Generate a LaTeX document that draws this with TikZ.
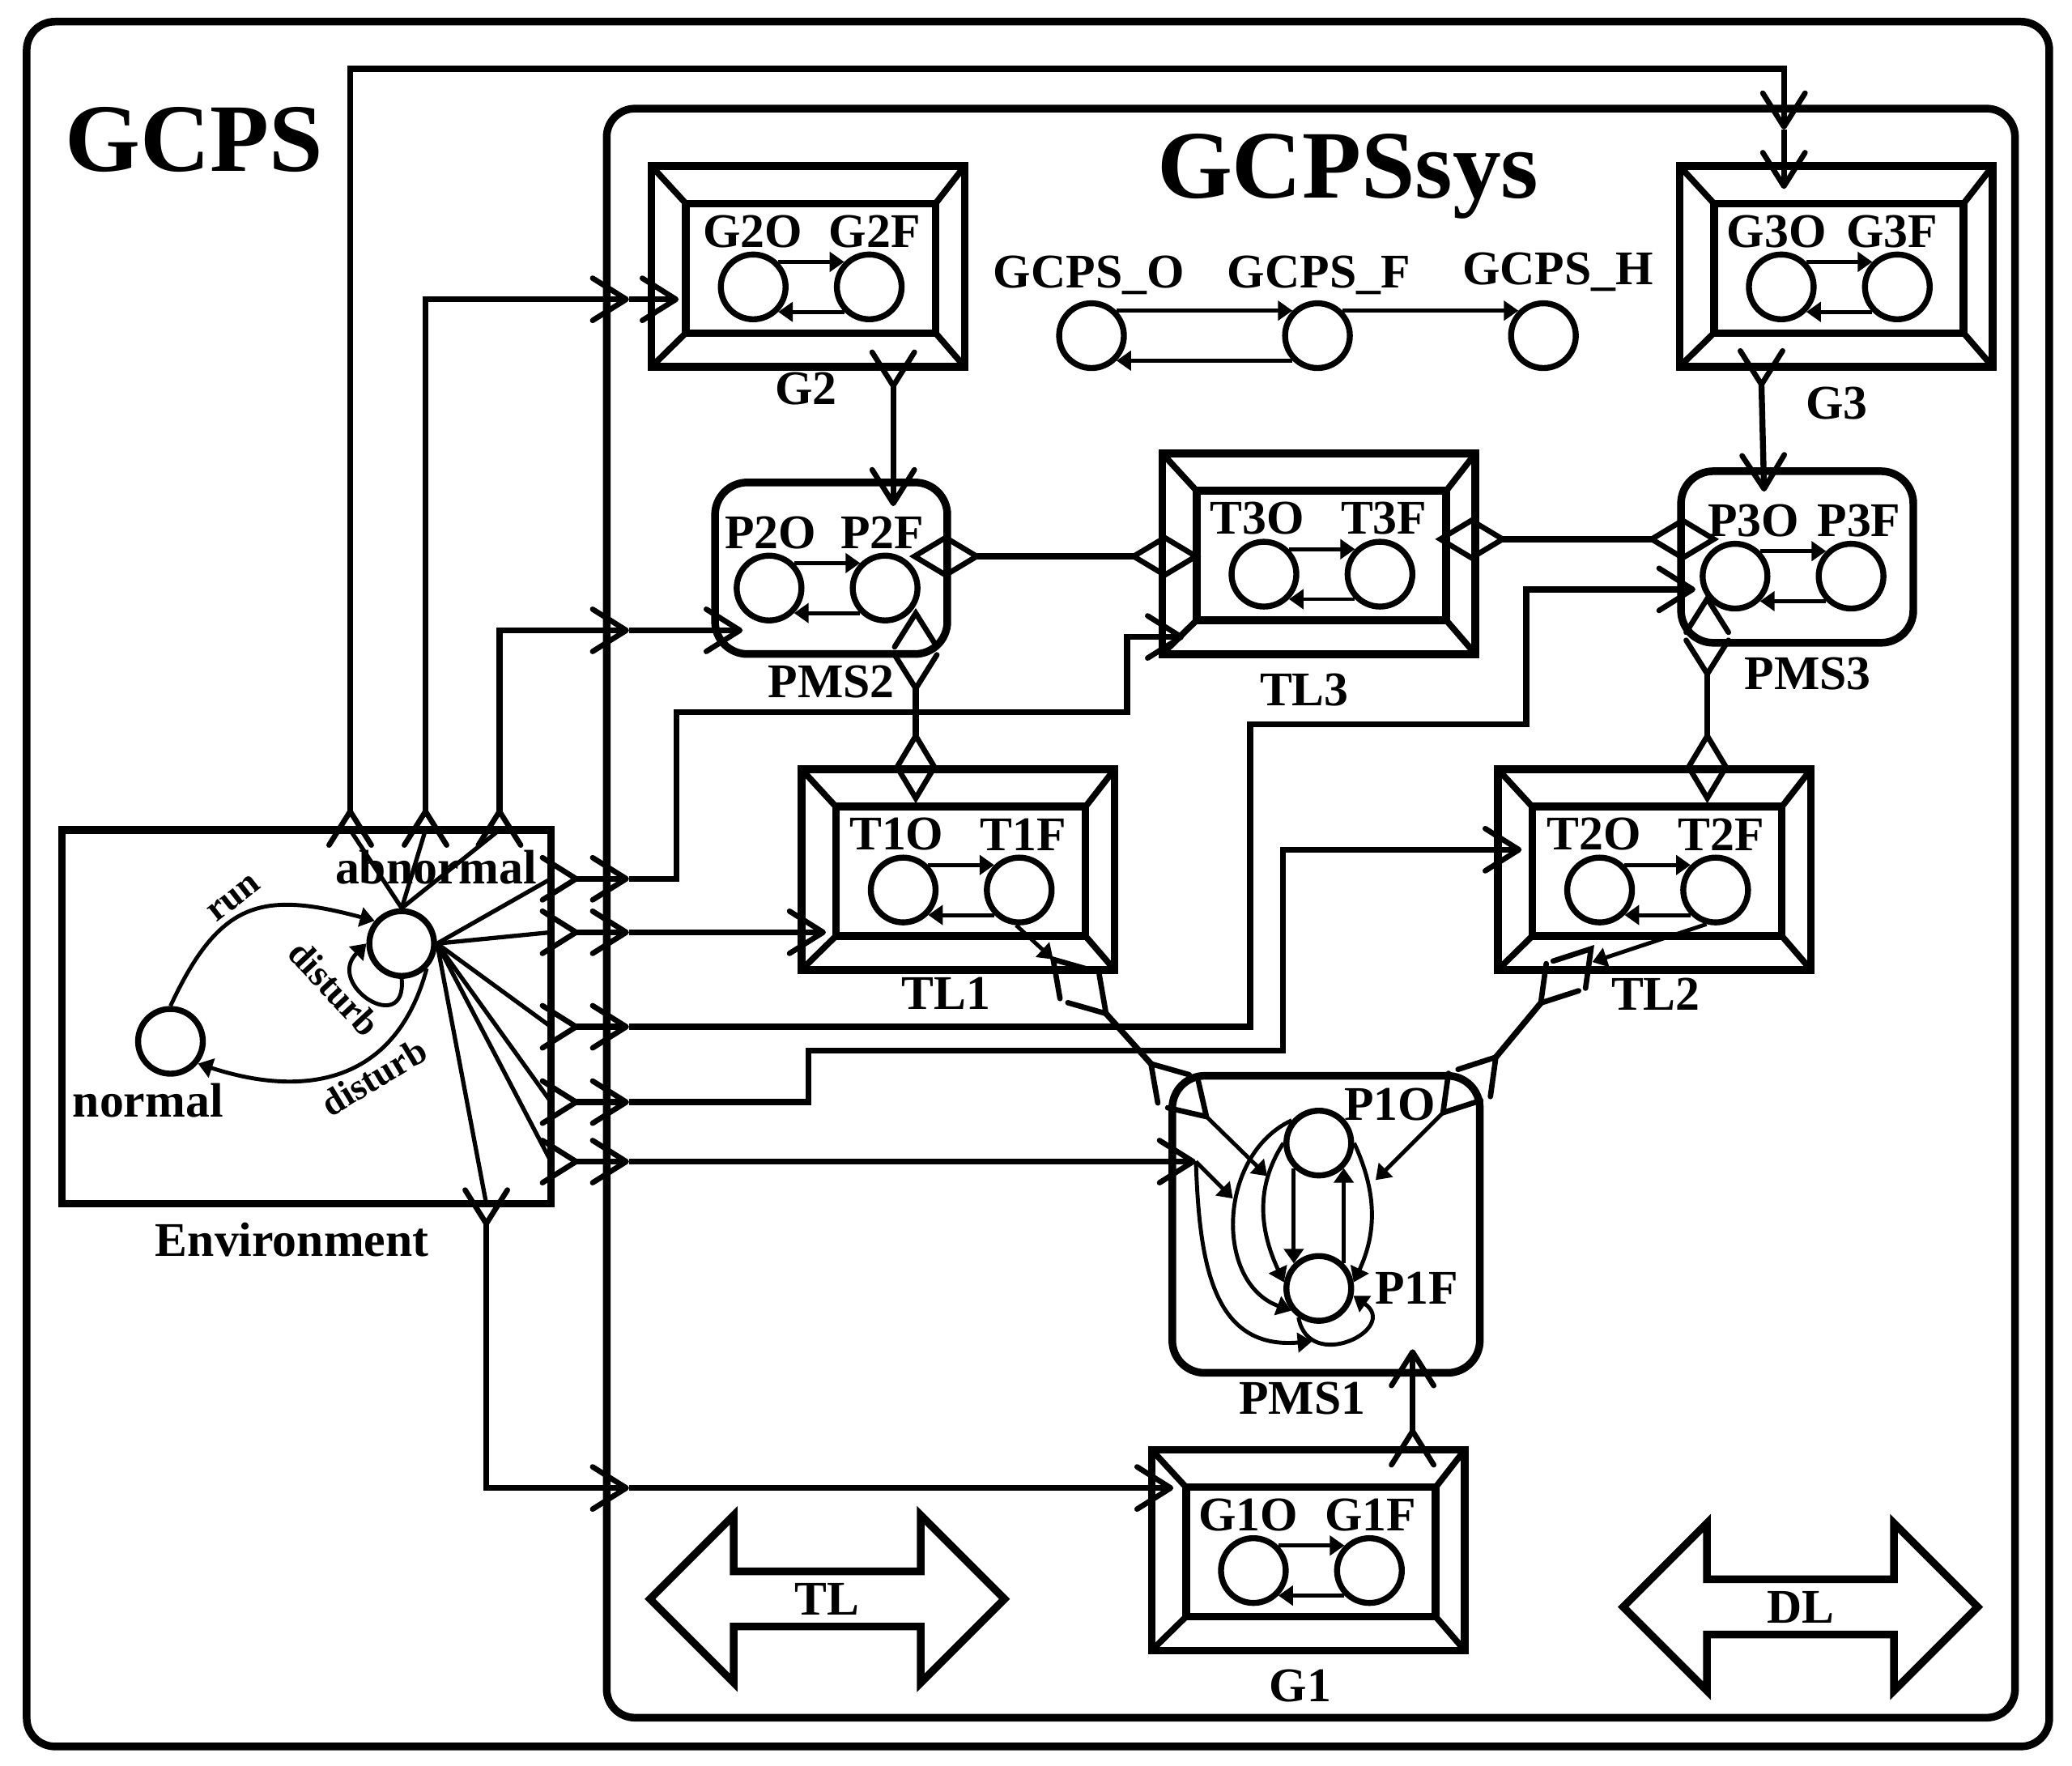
\documentclass[tikz,border=0pt]{standalone}
\usepackage{fontspec}
\setmainfont{Liberation Serif}
\usetikzlibrary{arrows.meta,automata,positioning,calc,shapes.arrows}
\newcommand{\statepair}[4]{%
  \node[state] (#1O) at (#2) {};
  \node[state] (#1F) [right =.56cm of #1O] {};
  \node[lbl] (#1Ol) [above =1.2pt of #1O,xshift=#3*0.01632cm] {#1O};
  \node[lbl] (#1Fl) [above =1.2pt of #1F,xshift=#4*0.01632cm] {#1F};
  \path[->] (#1O.45) edge (#1F.135)
            (#1F.-135) edge (#1O.-45);
}
\newcommand{\bevelbox}[5]{%
  \node[outerbox] (#1) at (#2) {};
  \node[innerbox] (#1in) at ($(#1)+(2,1.4)$) {};
  \draw[bevel] (#1.north west) -- (#1in.north west)
               (#1.north east) -- (#1in.north east)
               (#1.south west) -- (#1in.south west)
               (#1.south east) -- (#1in.south east);
  \statepair{#3}{$(#1)+(-41.5,15.5)$}{#4}{#5}
}
\begin{document}
\begin{tikzpicture}[x=0.01632cm,y=-0.01632cm,
    >={Stealth[length=1.8mm,width=2.4mm,inset=0pt]},
    port/.tip={Straight Barb[length=.416cm,width=.522cm,line width=1.9pt,round]},
    dia/.tip={Diamond[open,length=.9cm,width=.54cm,line width=1.9pt]},
    every state/.style={minimum size=.8cm,inner sep=0pt,line width=2.1pt},
    every edge/.style={draw,line width=1.4pt},
    barb/.pic={\draw[line width=1.9pt,line cap=round,line join=miter] (-25.5,-16) -- (0,0) -- (-25.5,16);},
    box/.style={draw,line width=2.7pt,inner sep=0pt,outer sep=0pt},
    outerbox/.style={box,minimum width=3.87cm,minimum height=2.48cm},
    innerbox/.style={box,minimum width=3.085cm,minimum height=1.6cm},
    bevel/.style={line width=2.2pt},
    pmsbox/.style={box,rounded corners=.4cm},
    lbl/.style={inner sep=0pt,font=\fontsize{17}{17}\selectfont\bfseries},
    big/.style={inner sep=0pt,font=\fontsize{34}{36}\selectfont\bfseries},
    small/.style={inner sep=0pt,font=\fontsize{13}{14}\selectfont\bfseries},
    link/.style={line width=2.1pt,line join=miter},
    thin link/.style={line width=1.5pt},
    bigarrow/.style={draw,line width=2.7pt,double arrow,double arrow tip angle=90,
      double arrow head extend=.64cm,minimum height=4.38cm,minimum width=2.07cm,
      inner sep=2pt,font=\fontsize{17}{17}\selectfont\bfseries}]
  \useasboundingbox (0,0) rectangle (1568,1335.8);

  % frames
  \node[box,rounded corners=.35cm,minimum width=24.99cm,minimum height=21.31cm] (gcps) at (785.5,669) {};
  \node[box,rounded corners=.35cm,minimum width=17.40cm,minimum height=19.88cm] (sys) at (992,691) {};
  \node[box,minimum width=6.04cm,minimum height=4.62cm] (env) at (232,769.5) {};
  \node[big] (gcpsl) at (147,106) {GCPS};
  \node[big] (sysl) at (1020,133.5) {GCPSsys};
  \node[lbl] (envl) at (221,938) {Environment};

  % environment
  \node[state] (norm) at (129,788) {};
  \node[state] (abn) at (304,714) {};
  \node[lbl] (norml) at (112,833) {normal};
  \node[lbl] (abnl) at (330,656) {abnormal};
  \node[small,rotate=38] (runl) at (177,680) {run};
  \node[small,rotate=-47] (dist1) at (253,748) {disturb};
  \node[small,rotate=31] (dist2) at (283,815) {disturb};
  \path[->] (norm.north) edge [out=65,in=165,looseness=1.35] (abn.140)
            (abn.-45) edge [out=-105,in=-18,looseness=1.2] (norm.-39)
            (abn.south) edge [out=-85,in=225,looseness=3] (abn.west);

  % system level
  \node[state] (GO) at (826,254) {};
  \node[state] (GF) at (997,254) {};
  \node[state] (GH) at (1168,254) {};
  \node[lbl] (GOl) at (824,208) {GCPS\_O};
  \node[lbl] (GFl) at (998,208) {GCPS\_F};
  \node[lbl] (GHl) at (1179,206) {GCPS\_H};
  \path[->] (GO.45) edge (GF.135)
            (GF.-135) edge (GO.-45)
            (GF.45) edge (GH.135);

  % tanks and gates
  \bevelbox{G2}{611.5,201.6}{G2}{-0.5}{4}
  \bevelbox{G3}{1389.5,201.6}{G3}{-3.5}{-4}
  \bevelbox{TL3}{998,419}{T3}{-5}{3}
  \bevelbox{TL1}{725,658}{T1}{-5}{3}
  \bevelbox{TL2}{1252,658}{T2}{-4}{4}
  \bevelbox{G1}{990,1173}{G1}{-4}{1}
  \node[lbl] (G2l) at (610,294) {G2};
  \node[lbl] (G3l) at (1390,305) {G3};
  \node[lbl] (TL3l) at (987,522) {TL3};
  \node[lbl] (TL1l) at (716,752) {TL1};
  \node[lbl] (TL2l) at (1253,752) {TL2};
  \node[lbl] (G1l) at (984,1276) {G1};

  % pumps
  \node[pmsbox,minimum width=2.87cm,minimum height=2.12cm] (PMS2) at (629,430) {};
  \node[pmsbox,minimum width=2.87cm,minimum height=2.12cm] (PMS3) at (1360,421.5) {};
  \node[pmsbox,minimum width=3.80cm,minimum height=3.67cm] (PMS1) at (1003.5,926.5) {};
  \node[lbl] (PMS2l) at (629,516) {PMS2};
  \node[lbl] (PMS3l) at (1368,510) {PMS3};
  \node[lbl] (PMS1l) at (985.5,1058) {PMS1};
  \statepair{P2}{582,445}{1}{-2}
  \statepair{P3}{1313,436}{14}{6}
  \node[state] (P1O) at (998,865) {};
  \node[state] (P1F) at (998,975) {};
  \node[lbl] (P1Ol) at (1052,836) {P1O};
  \node[lbl] (P1Fl) at (1072,975) {P1F};

  % ports
  \coordinate (pt1) at (265,614);
  \coordinate (pt2) at (322,614);
  \coordinate (pt3) at (378,614);
  \coordinate (pr1) at (436,665);
  \coordinate (pr2) at (436,705.5);
  \coordinate (pr3) at (436,777);
  \coordinate (pr4) at (436,834);
  \coordinate (pr5) at (436,879);
  \coordinate (pb) at (368,926);
  \coordinate (sr1) at (476,665);
  \coordinate (sr2) at (476,705.5);
  \coordinate (sr3) at (476,777);
  \coordinate (sr4) at (476,834);
  \coordinate (sr5) at (476,879);
  \coordinate (st1) at (1350,98);
  \coordinate (st2) at (476,226.5);
  \coordinate (st3) at (476,477);
  \coordinate (sb) at (476,1126);
  \coordinate (g3in) at (1350,143);
  \coordinate (g2in) at (513.6,226.5);
  \coordinate (p2in) at (562,477);
  \coordinate (t3in) at (896,482);
  \coordinate (t1in) at (625,705.5);
  \coordinate (p3in) at (1283,446);
  \coordinate (t2in) at (1151.5,643);
  \coordinate (p1in) at (905,879);
  \coordinate (g1in) at (888,1126);
  \coordinate (g1out) at (1069,1083);
  \coordinate (p1up) at (1069,1021);
  \coordinate (g2out) at (676,292);
  \coordinate (p2up) at (676,383);
  \coordinate (g3out) at (1333,291);
  \coordinate (p3up) at (1335,372);
  \coordinate (p2a) at (693,464);
  \coordinate (p2b) at (693,521);
  \coordinate (t1a) at (693,553.5);
  \coordinate (t1b) at (693,608);
  \coordinate (p3a) at (1292,453);
  \coordinate (p3b) at (1292,510);
  \coordinate (t2a) at (1292,553.5);
  \coordinate (t2b) at (1292,608);
  \coordinate (q1) at (797,726);
  \coordinate (q2) at (837,767);
  \coordinate (q3) at (871,805);
  \coordinate (q4) at (913,845);
  \coordinate (r1) at (1204,718);
  \coordinate (r2) at (1166,759);
  \coordinate (r3) at (1132,800);
  \coordinate (r4) at (1092,842);
  \coordinate (c1) at (959,890);
  \coordinate (c2) at (933,907);
  \coordinate (c3) at (1041,893);
  \coordinate (c4) at (993,1015);
  \coordinate (c5) at (1205,728);

  % crow feet without a shaft
  \pic[rotate=90] at (pt1) {barb};
  \pic[rotate=90] at (pt2) {barb};
  \pic[rotate=90] at (pt3) {barb};
  \pic at (pr1) {barb};
  \pic at (pr2) {barb};
  \pic at (pr3) {barb};
  \pic at (pr4) {barb};
  \pic at (pr5) {barb};
  \pic[rotate=-90] at (pb) {barb};
  \pic[rotate=90] at (g1out) {barb};
  \pic[rotate=-90] at (g2out) {barb};
  \pic[rotate=-90] at (g3out) {barb};
  \pic[rotate=90] at (p2a) {barb};
  \pic[rotate=-90] at (p2b) {barb};
  \pic[rotate=90] at (p3a) {barb};
  \pic[rotate=-90] at (p3b) {barb};
  \pic[rotate=132] at (q1) {barb};
  \pic[rotate=-48] at (q2) {barb};
  \pic[rotate=132] at (q3) {barb};
  \pic[rotate=-45] at (q4) {barb};
  \pic[rotate=50] at (r1) {barb};
  \pic[rotate=230] at (r2) {barb};
  \pic[rotate=50] at (r3) {barb};
  \pic[rotate=230] at (r4) {barb};

  % fan out of abnormal
  \draw[thin link] (abn.north) -- (pt1 |- env.north);
  \draw[thin link] (abn.north) -- (pt2 |- env.north);
  \draw[thin link] (abn.north) -- (pt3 |- env.north);
  \draw[thin link] (abn.east) -- (pr1 -| env.east);
  \draw[thin link] (abn.east) -- (pr2 -| env.east);
  \draw[thin link] (abn.east) -- (pr3 -| env.east);
  \draw[thin link] (abn.east) -- (pr4 -| env.east);
  \draw[thin link] (abn.east) -- (pr5 -| env.east);
  \draw[thin link] (abn.east) -- (pb |- env.south);

  % long links
  \draw[link,-port] (pt1) |- (1350,52) -- (st1);
  \draw[link,-port] (st1) -- (g3in);
  \draw[link,-port] (pt2) |- (st2);
  \draw[link,-port] (st2) -- (g2in);
  \draw[link,-port] (pt3) |- (st3);
  \draw[link,-port] (st3) -- (p2in);
  \draw[link,-port] (pr1) -- (sr1);
  \draw[link,-port] (sr1) -| (512,539) -| (853,482) -- (t3in);
  \draw[link,-port] (pr2) -- (sr2);
  \draw[link,-port] (sr2) -- (t1in);
  \draw[link,-port] (pr3) -- (sr3);
  \draw[link,-port] (sr3) -| (946,548) -| (1155,446) -- (p3in);
  \draw[link,-port] (pr4) -- (sr4);
  \draw[link,-port] (sr4) -| (612,795) -| (971,643) -- (t2in);
  \draw[link,-port] (pr5) -- (sr5);
  \draw[link,-port] (sr5) -- (p1in);
  \draw[link,-port] (pb) |- (sb);
  \draw[link,-port] (sb) -- (g1in);
  \draw[link,-port] (g1out) -- (p1up);
  \draw[link,-port] (g2out) -- (p2up);
  \draw[link,-port] (g3out) -- (p3up);

  % diamonds
  \draw[link,dia-dia] (688,421) -- (909,421);
  \draw[link,dia-dia] (1086,408) -- (1301,408);
  \draw[link,dia-] (t1b) -- (p2b);
  \draw[link,dia-] (t2b) -- (p3b);

  % inside PMS1 and the diagonals
  \draw[link] (q2) -- (q3);
  \draw[link] (r2) -- (r3);
  \path[->] (T1F.-95) edge (q1)
            (T2F.-105) edge (c5)
            (q4) edge (c1)
            (p1in) edge (c2)
            (r4) edge (c3)
            (P1O.225) edge (P1F.135)
            (P1F.45) edge (P1O.-45)
            (P1O.140) edge [out=205,in=160,looseness=1.1] (P1F.219)
            (P1O.180) edge [out=237,in=115] (P1F.170)
            (P1O.0) edge [out=-65,in=65] (P1F.10)
            (p1in) edge [out=-88,in=185,looseness=1.2] (c4)
            (P1F.235) edge [out=-80,in=-35,looseness=2.5] (P1F.-12);

  \node[bigarrow] (TL) at (626,1210) {TL};
  \node[bigarrow] (DL) at (1362.5,1216) {DL};
\end{tikzpicture}
\end{document}
